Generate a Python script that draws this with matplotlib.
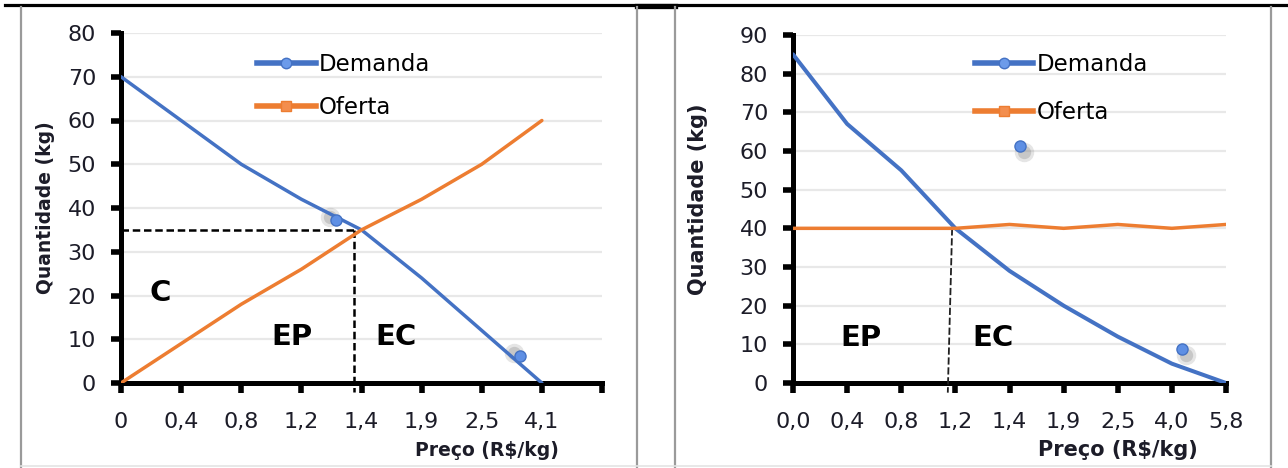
import matplotlib.pyplot as plt
from matplotlib.lines import Line2D
from matplotlib import transforms

# --- data ---
precos_1 = ["0", "0,4", "0,8", "1,2", "1,4", "1,9", "2,5", "4,1"]
demanda_1 = [70, 60, 50, 42, 35, 24, 12, 0]
oferta_1 = [0, 9, 18, 26, 35, 42, 50, 60]
soltos_x_1 = [3.57, 6.63]      # stray markers (category position)
soltos_y_1 = [37.3, 6.2]
equil_x_1 = 3.87
equil_y_1 = 35

precos_2 = ["0,0", "0,4", "0,8", "1,2", "1,4", "1,9", "2,5", "4,0", "5,8"]
demanda_2 = [85, 67, 55, 40, 29, 20, 12, 5, 0]
oferta_2 = [40, 40, 40, 40, 41, 40, 41, 40, 41]
soltos_x_2 = [4.2, 7.18]
soltos_y_2 = [61.3, 8.8]
equil_x_2 = [2.94, 2.86]
equil_y_2 = [40, -2.5]

AZUL = "#4472C4"
LARANJA = "#ED7D31"
TEXTO = "#1c1c28"
W, H = 1288, 468

plt.rcParams['font.family'] = ['DejaVu Sans']
fig = plt.figure(figsize=(W / 100, H / 100), dpi=100)


def estilo(ax, labels, ymax):
    ax.set_xlim(0, 8)
    ax.set_ylim(0, ymax)
    ax.set_xticks(range(9))
    ax.set_xticklabels(labels + [""] * (9 - len(labels)))
    ax.set_yticks(range(0, ymax + 1, 10))
    for s in ["top", "right"]:
        ax.spines[s].set_visible(False)
    for s in ["left", "bottom"]:
        ax.spines[s].set_linewidth(3.6)
        ax.spines[s].set_color("black")
    ax.yaxis.grid(True, color="#E8E8E8", lw=1.6)
    ax.set_axisbelow(True)
    ax.tick_params(axis="x", direction="out", length=7, width=4, pad=14,
                   labelsize=16, labelcolor=TEXTO)
    ax.tick_params(axis="y", direction="out", length=7, width=4, pad=11,
                   labelsize=16, labelcolor=TEXTO)


def pontos_soltos(ax, xs, ys, dx, dy):
    # blue stray markers with a soft grey shadow
    sombra = transforms.offset_copy(ax.transData, fig=fig, x=dx, y=dy, units="points")
    for k, a in [(1.0, 0.18), (0.6, 0.25)]:
        ax.plot(xs, ys, "o", ms=11 * k + 3, color="#707070", alpha=a,
                mec="none", transform=sombra, clip_on=False)
    ax.plot(xs, ys, "o", ms=8, mfc="#5E8FE4", mec=AZUL, mew=1, clip_on=False, zorder=4)


def legenda(ax, x, y, spacing):
    hs = [Line2D([], [], color=AZUL, lw=4.0, marker="o", ms=7.5, mfc="#6C9BEA", mec=AZUL),
          Line2D([], [], color=LARANJA, lw=4.0, marker="s", ms=7.5, mfc="#F38E4E", mec=LARANJA)]
    ax.legend(hs, ["Demanda", "Oferta"], loc="upper left", bbox_to_anchor=(x, y),
              frameon=False, fontsize=16.5, handlelength=2.55, handletextpad=0.15,
              labelspacing=spacing, borderpad=0, borderaxespad=0)


# --- left chart ---
ax1 = fig.add_axes([121 / W, 1 - 383 / H, (602 - 121) / W, (383 - 33) / H])
estilo(ax1, precos_1, 80)
x1 = range(len(precos_1))
ax1.plot(x1, demanda_1, color=AZUL, lw=2.5, solid_capstyle="round", zorder=3)
ax1.plot(x1, oferta_1, color=LARANJA, lw=2.5, solid_capstyle="round", zorder=3)
ax1.plot([0, equil_x_1], [equil_y_1, equil_y_1], color="black", lw=1.8,
         dashes=(3, 1.5), zorder=2.6)
ax1.plot([equil_x_1, equil_x_1], [equil_y_1, -2], color="black", lw=1.8,
         dashes=(3, 1.5), clip_on=False, zorder=2.6)
pontos_soltos(ax1, soltos_x_1, soltos_y_1, -4, 2)
legenda(ax1, 0.283, 0.943, 0.88)
for txt, x, y in [("C", 0.65, 20.6), ("EP", 2.85, 10.5), ("EC", 4.58, 10.5)]:
    ax1.text(x, y, txt, fontsize=21, fontweight="bold", ha="center", va="center")

# --- right chart ---
ax2 = fig.add_axes([793 / W, 1 - 383 / H, (1226 - 793) / W, (383 - 35) / H])
estilo(ax2, precos_2, 90)
x2 = range(len(precos_2))
ax2.plot(x2, demanda_2, color=AZUL, lw=2.9, solid_capstyle="round", zorder=3)
ax2.plot(x2, oferta_2, color=LARANJA, lw=2.5, solid_capstyle="round", zorder=3)
ax2.plot(equil_x_2, equil_y_2, color="#202020", lw=1.3, dashes=(4, 1.5),
         clip_on=False, zorder=2.6)
pontos_soltos(ax2, soltos_x_2, soltos_y_2, 3, -4)
legenda(ax2, 0.42, 0.948, 1.08)
for txt, x, y in [("EP", 1.26, 11.6), ("EC", 3.7, 11.6)]:
    ax2.text(x, y, txt, fontsize=21, fontweight="bold", ha="center", va="center")

# axis titles
fig.text(46 / W, 1 - 208 / H, "Quantidade (kg)", rotation=90, fontsize=13.5,
         fontweight="bold", ha="center", va="center", color=TEXTO)
fig.text(487 / W, 1 - 450 / H, "Preço (R$/kg)", fontsize=13.5,
         fontweight="bold", ha="center", va="center", color=TEXTO)
fig.text(698 / W, 1 - 199 / H, "Quantidade (kg)", rotation=90, fontsize=15,
         fontweight="bold", ha="center", va="center", color=TEXTO)
fig.text(1118 / W, 1 - 450 / H, "Preço (R$/kg)", fontsize=15,
         fontweight="bold", ha="center", va="center", color=TEXTO)

# table-like frame around the two charts
fig.add_artist(Line2D([5 / W, 1], [1 - 5 / H] * 2, color="black", lw=2.3))
fig.add_artist(Line2D([637 / W, 675 / W], [1 - 6 / H] * 2, color="black", lw=3.8))
for xp in [21, 637, 675, 1271]:
    fig.add_artist(Line2D([xp / W] * 2, [0, 1 - 7 / H], color="#9A9A9A", lw=1.6))
fig.add_artist(Line2D([21 / W, 1271 / W], [2 / H] * 2, color="#E4E4E4", lw=1.2))

fig.savefig("out.png", dpi=100)
